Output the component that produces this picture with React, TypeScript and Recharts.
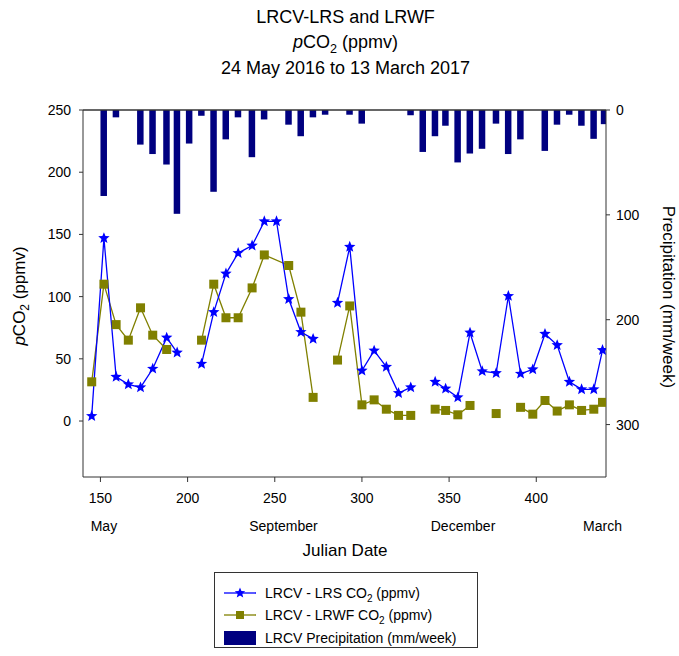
import { Bar, ComposedChart, Line, ReferenceLine, XAxis, YAxis } from 'recharts';
import type { ReactElement } from 'react';

const FONT = '"Liberation Sans", Arial, sans-serif';
const LRS_BLUE = '#0000ff';
const LRWF_OLIVE = '#808000';
const RAIN_NAVY = '#000080';
const FRAME = '#333333';
const BAR_W = 6.5;

// weekly precipitation (mm/week) by Julian date
const precipDays = [
  152, 159, 173, 180, 188, 194, 201, 208, 215, 222, 229, 237, 244, 258, 265, 272, 279, 293, 300, 328, 335, 342,
  348, 355, 362, 369, 377, 384, 391, 405, 412, 419, 426, 433, 439,
];
const precipMm = [
  82, 7, 33, 42, 52, 99, 32, 5.5, 78, 28, 7, 45, 9, 14, 25, 7, 4.5, 4.5, 13, 5, 40, 25, 15, 50, 41.5, 37, 13, 42,
  28, 39, 14, 4.5, 15, 27.5, 13.5,
];

// pCO2 at LRS; null marks a break in the line
const lrsDays = [
  145, 152, 159, 166, 173, 180, 188, 194, 200, 208, 215, 222, 229, 237, 244, 251, 258, 265, 272, 279, 286, 293,
  300, 307, 314, 321, 328, 335, 342, 348, 355, 362, 369, 377, 384, 391, 398, 405, 412, 419, 426, 433, 438,
];
const lrsCo2 = [
  4, 147, 35.5, 29.5, 27, 42, 67, 55, null, 46, 87.5, 118.5, 135, 141, 160.5, 160.5, 98, 71.5, 66, null, 95, 140,
  40.5, 56.5, 43.5, 22.5, 27, null, 31.5, 26, 19, 71, 40, 38.5, 100.5, 38, 41.5, 70, 61, 31.5, 25.5, 25.5, 57,
];

// pCO2 at LRWF; null marks a break in the line
const lrwfDays = [
  145, 152, 159, 166, 173, 180, 188, 198, 208, 215, 222, 229, 237, 244, 258, 265, 272, 279, 286, 293, 300, 307,
  314, 321, 328, 335, 342, 348, 355, 362, 370, 377, 384, 391, 398, 405, 412, 419, 426, 433, 438,
];
const lrwfCo2 = [
  31.5, 110, 77.5, 65, 91, 69, 57.5, null, 65, 110, 83, 83, 107, 133.5, 125, 87.5, 19, null, 49, 92.5, 13, 17, 9.5,
  4.5, 4.5, null, 9.5, 8.5, 5, 12.5, null, 6, null, 11, 5.5, 16.5, 8, 13, 8.5, 9.5, 15,
];

const julianTicks = [150, 200, 250, 300, 350, 400];
const monthDays = [152, 255, 358, 438];
const monthNames = ['May', 'September', 'December', 'March'];
const co2Ticks = [0, 50, 100, 150, 200, 250];
const rainTicks = [0, 100, 200, 300];

const precipRows = precipDays.map((day, i) => ({ day, precip: precipMm[i] }));
const lrsRows = lrsDays.map((day, i) => ({ day, co2: lrsCo2[i] }));
const lrwfRows = lrwfDays.map((day, i) => ({ day, co2: lrwfCo2[i] }));

function starPoints(cx: number, cy: number, outer: number, inner: number): string {
  const pts: string[] = [];
  for (let i = 0; i < 10; i++) {
    const a = -Math.PI / 2 + (i * Math.PI) / 5;
    const rad = i % 2 === 0 ? outer : inner;
    pts.push(`${cx + rad * Math.cos(a)},${cy + rad * Math.sin(a)}`);
  }
  return pts.join(' ');
}

function StarDot(props: any): ReactElement {
  const { cx, cy, value, index } = props;
  if (cx == null || cy == null || value == null) return <g key={`s-${index}`} />;
  return <polygon key={`s-${index}`} points={starPoints(cx, cy, 6, 2.6)} fill={LRS_BLUE} />;
}

function SquareDot(props: any): ReactElement {
  const { cx, cy, value, index } = props;
  if (cx == null || cy == null || value == null) return <g key={`q-${index}`} />;
  return <rect key={`q-${index}`} x={cx - 4.5} y={cy - 4.5} width={9} height={9} fill={LRWF_OLIVE} />;
}

// hanging bar centred on its day, fixed width
function RainBar(props: any): ReactElement {
  const { x, y, width, height } = props;
  const cx = x + width / 2;
  const top = Math.min(y, y + height);
  return <rect x={cx - BAR_W / 2} y={top} width={BAR_W} height={Math.abs(height)} fill={RAIN_NAVY} />;
}

const tickStyle = { fill: '#000', fontSize: 14, fontFamily: FONT };

function Co2Label({ size }: { size: number }): ReactElement {
  return (
    <span>
      <i>p</i>CO<sub style={{ fontSize: size * 0.7, verticalAlign: 'sub', lineHeight: 0 }}>2</sub> (ppmv)
    </span>
  );
}

export default function App(): ReactElement {
  return (
    <div
      style={{
        position: 'absolute',
        left: 0,
        top: 0,
        width: 679,
        height: 656,
        background: '#fff',
        fontFamily: FONT,
        color: '#000',
      }}
    >
      <div style={{ position: 'absolute', left: 6, width: 679, top: 6, height: 22, lineHeight: '22px', fontSize: 18, textAlign: 'center' }}>
        LRCV-LRS and LRWF
      </div>
      <div style={{ position: 'absolute', left: 6, width: 679, top: 31, height: 22, lineHeight: '22px', fontSize: 18, textAlign: 'center' }}>
        <Co2Label size={18} />
      </div>
      <div style={{ position: 'absolute', left: 6, width: 679, top: 57, height: 22, lineHeight: '22px', fontSize: 18, textAlign: 'center' }}>
        24 May 2016 to 13 March 2017
      </div>

      <ComposedChart
        width={679}
        height={656}
        data={precipRows}
        margin={{ top: 110, right: 33, bottom: 114, left: 43 }}
        style={{ position: 'absolute', left: 0, top: 0 }}
      >
        <XAxis
          xAxisId="jd"
          dataKey="day"
          type="number"
          domain={[140, 440]}
          ticks={julianTicks}
          allowDataOverflow
          height={35}
          tickSize={5}
          tickMargin={11}
          stroke={FRAME}
          tick={tickStyle}
        />
        <XAxis
          xAxisId="month"
          dataKey="day"
          type="number"
          domain={[140, 440]}
          ticks={monthDays}
          tickFormatter={(d: number) => monthNames[monthDays.indexOf(d)]}
          allowDataOverflow
          axisLine={false}
          tickLine={false}
          tickSize={0}
          tickMargin={9}
          height={30}
          tick={tickStyle}
        />
        <YAxis
          yAxisId="co2"
          type="number"
          domain={[-45, 250]}
          ticks={co2Ticks}
          allowDataOverflow
          width={40}
          tickSize={4}
          tickMargin={8}
          stroke={FRAME}
          tick={tickStyle}
        />
        <YAxis
          yAxisId="rain"
          orientation="right"
          type="number"
          reversed
          domain={[0, 350]}
          ticks={rainTicks}
          allowDataOverflow
          width={40}
          tickSize={4}
          tickMargin={6}
          stroke={FRAME}
          tick={tickStyle}
        />
        <ReferenceLine xAxisId="jd" yAxisId="co2" y={250} stroke={FRAME} strokeWidth={1.5} />
        <Bar
          xAxisId="jd"
          yAxisId="rain"
          dataKey="precip"
          fill={RAIN_NAVY}
          shape={RainBar}
          isAnimationActive={false}
        />
        <Line
          xAxisId="jd"
          yAxisId="co2"
          data={lrwfRows}
          dataKey="co2"
          stroke={LRWF_OLIVE}
          strokeWidth={1.3}
          dot={SquareDot}
          activeDot={false}
          isAnimationActive={false}
        />
        <Line
          xAxisId="jd"
          yAxisId="co2"
          data={lrsRows}
          dataKey="co2"
          stroke={LRS_BLUE}
          strokeWidth={1.3}
          dot={StarDot}
          activeDot={false}
          isAnimationActive={false}
        />
      </ComposedChart>

      <div
        style={{
          position: 'absolute',
          left: -80,
          top: 285,
          width: 200,
          height: 22,
          lineHeight: '22px',
          fontSize: 17,
          textAlign: 'center',
          transform: 'rotate(-90deg)',
        }}
      >
        <Co2Label size={17} />
      </div>
      <div
        style={{
          position: 'absolute',
          left: 568,
          top: 286,
          width: 200,
          height: 22,
          lineHeight: '22px',
          fontSize: 17,
          textAlign: 'center',
          transform: 'rotate(90deg)',
        }}
      >
        Precipitation (mm/week)
      </div>
      <div
        style={{
          position: 'absolute',
          left: 245,
          top: 540,
          width: 200,
          height: 22,
          lineHeight: '22px',
          fontSize: 17,
          textAlign: 'center',
        }}
      >
        Julian Date
      </div>

      <div
        style={{
          position: 'absolute',
          left: 214,
          top: 572,
          width: 264,
          height: 76,
          border: `1px solid ${FRAME}`,
          boxSizing: 'border-box',
          fontSize: 14,
        }}
      >
        <div style={{ position: 'absolute', left: 9, top: 11, height: 18, display: 'flex', alignItems: 'center' }}>
          <svg width={32} height={18}>
            <line x1={0} y1={9} x2={32} y2={9} stroke={LRS_BLUE} strokeWidth={1.3} />
            <polygon points={starPoints(16, 9, 5.5, 2.4)} fill={LRS_BLUE} />
          </svg>
          <span style={{ marginLeft: 9 }}>
            LRCV - LRS CO<sub style={{ fontSize: 10, verticalAlign: 'sub', lineHeight: 0 }}>2</sub> (ppmv)
          </span>
        </div>
        <div style={{ position: 'absolute', left: 9, top: 33, height: 18, display: 'flex', alignItems: 'center' }}>
          <svg width={32} height={18}>
            <line x1={0} y1={9} x2={32} y2={9} stroke={LRWF_OLIVE} strokeWidth={1.3} />
            <rect x={12} y={5} width={8} height={8} fill={LRWF_OLIVE} />
          </svg>
          <span style={{ marginLeft: 9 }}>
            LRCV - LRWF CO<sub style={{ fontSize: 10, verticalAlign: 'sub', lineHeight: 0 }}>2</sub> (ppmv)
          </span>
        </div>
        <div style={{ position: 'absolute', left: 9, top: 56, height: 18, display: 'flex', alignItems: 'center' }}>
          <svg width={32} height={18}>
            <rect x={0} y={2} width={32} height={14} fill={RAIN_NAVY} />
          </svg>
          <span style={{ marginLeft: 9 }}>LRCV Precipitation (mm/week)</span>
        </div>
      </div>
    </div>
  );
}
